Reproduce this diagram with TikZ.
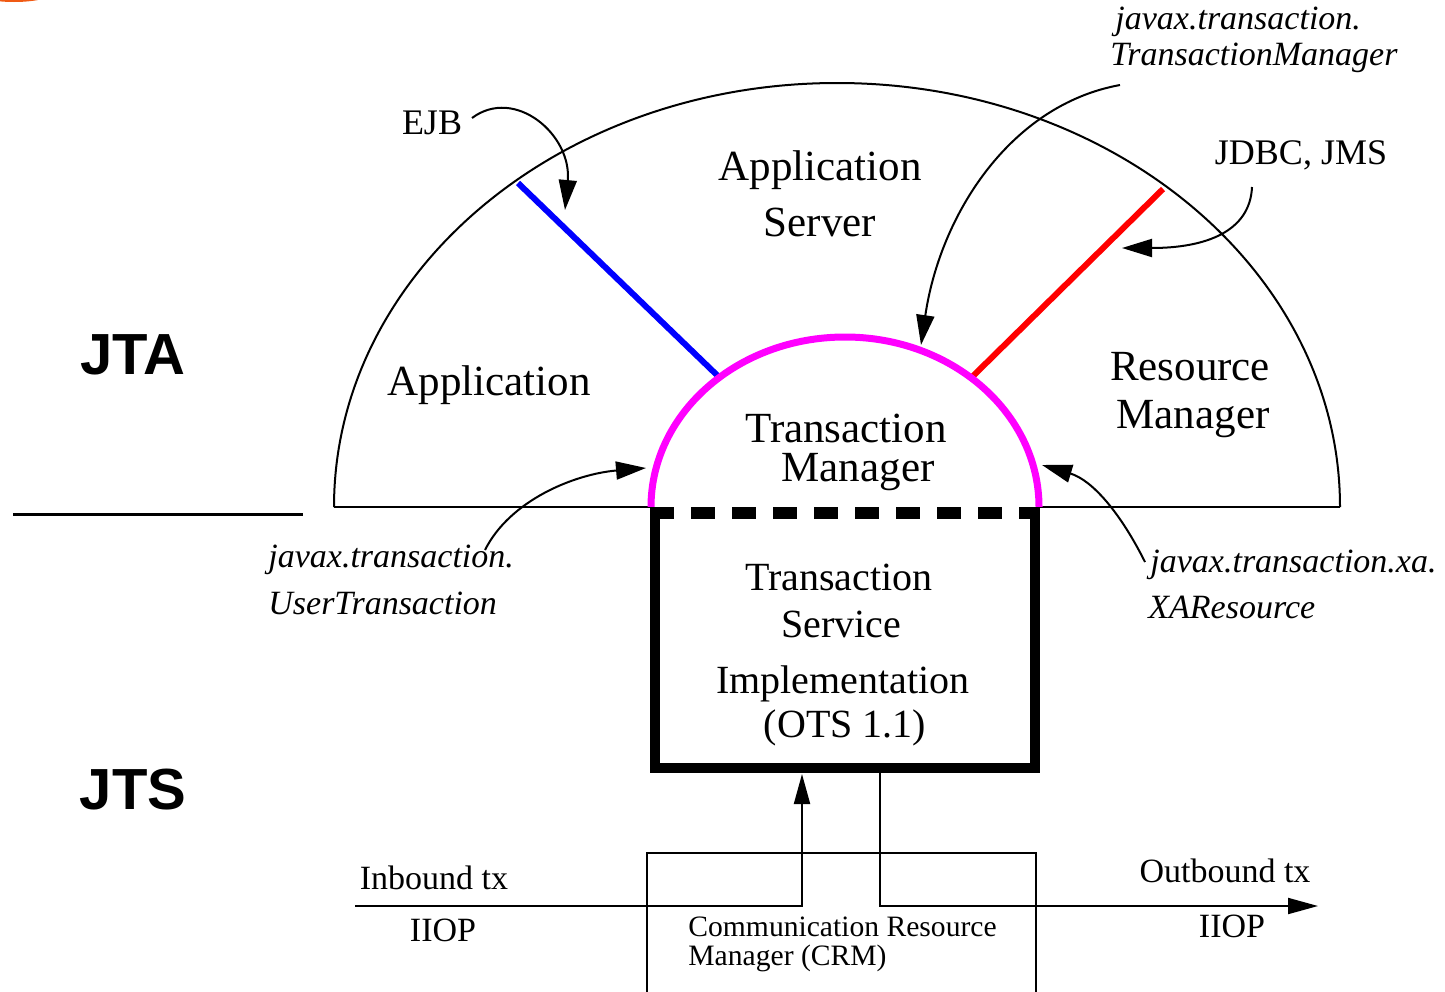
\documentclass[tikz,border=0pt]{standalone}
\usepackage{fontspec}
\setmainfont{Liberation Serif}
\newfontfamily\labelsans{Liberation Sans}
\usetikzlibrary{arrows.meta}
\definecolor{tmpink}{RGB}{255,0,255}
\definecolor{ejbblue}{RGB}{0,0,255}
\definecolor{rmred}{RGB}{255,0,0}
\definecolor{cornerorange}{RGB}{240,90,20}
\begin{document}
\begin{tikzpicture}[x=0.5pt,y=-0.5pt,
  big/.style={font=\fontsize{21.5}{26}\selectfont, inner sep=0pt},
  mid/.style={font=\fontsize{20}{24}\selectfont, inner sep=0pt},
  lbl/.style={font=\fontsize{18}{22}\selectfont, inner sep=0pt},
  api/.style={font=\fontsize{17}{20}\selectfont\itshape, inner sep=0pt, anchor=west},
  small/.style={font=\fontsize{17}{20}\selectfont, inner sep=0pt},
  crm/.style={font=\fontsize{14.8}{18}\selectfont, inner sep=0pt, anchor=west},
  layer/.style={font=\labelsans\bfseries\fontsize{29}{34}\selectfont, inner sep=0pt},
  thin/.style={line width=1pt},
  pointer/.style={thin, -{Triangle[length=15pt,width=9pt]}},
  bus/.style={thin, -{Triangle[length=15pt,width=8pt]}},
]
\useasboundingbox (0,0) rectangle (1445,991);
\clip (0,0) rectangle (1445,991);

% orange fragment at the corner
\fill[cornerorange] (14,-8) ellipse [x radius=20pt, y radius=5pt];

% coordinates
\coordinate (bl) at (334,507);
\coordinate (br) at (1340,507);
\coordinate (tml) at (651,507);
\coordinate (tmr) at (1039,507);
\coordinate (tssNW) at (655,513);
\coordinate (tssSW) at (655,768);
\coordinate (tssSE) at (1035,768);
\coordinate (tssNE) at (1035,513);

% big semicircle (application server)
\draw[thin] (bl) arc[start angle=180, end angle=0, x radius=251.5pt, y radius=212pt];
\draw[thin] (bl) -- (tml);
\draw[thin] (tmr) -- (br);

% blue and red spokes
\coordinate (ejbA) at (518,183);
\coordinate (ejbB) at (720,378);
\coordinate (rmA) at (1163,189);
\coordinate (rmB) at (972,377);
\draw[ejbblue, line width=3pt] (ejbA) -- (ejbB);
\draw[rmred, line width=3pt] (rmA) -- (rmB);

% transaction manager arc
\draw[tmpink, line width=3.5pt] (tml) arc[start angle=180, end angle=0, x radius=97pt, y radius=85pt];

% transaction service box
\draw[line width=5pt, miter limit=4] (tssNW) -- (tssSW) -- (tssSE) -- (tssNE);
\draw[line width=6pt, dash pattern=on 12pt off 8.5pt] ([xshift=-2.5pt]tssNW) -- ([xshift=2.5pt]tssNE);

% separator
\coordinate (sepL) at (13,514);
\coordinate (sepR) at (303,514);
\draw[line width=1.5pt] (sepL) -- (sepR);

% texts
\node[layer] (jta) at (133,355) {JTA};
\node[layer] (jts) at (133,790) {JTS};

\node[big] (app) at (489,385) {Application};
\node[big] (as1) at (820,170) {Application};
\node[big] (as2) at (820,222) {Server};
\node[big] (rm1) at (1190,367) {Resource};
\node[big] (rm2) at (1193,419) {Manager};
\node[big] (tm1) at (846,428) {Transaction};
\node[big] (tm2) at (858,472) {Manager};

\node[mid] (ts1) at (839,577) {Transaction};
\node[mid] (ts2) at (841,624) {Service};
\node[mid] (ts3) at (843,684) {Implementation};
\node[mid] (ts4) at (845,728) {(OTS 1.1)};

\node[lbl] (ejb) at (432,123) {EJB};
\node[lbl] (jdbc) at (1301,155) {JDBC, JMS};

\node[api] (tmA) at (1115,22) {javax.transaction.};
\node[api] (tmB) at (1110,58) {TransactionManager};
\node[api] (utA) at (268,560) {javax.transaction.};
\node[api] (utB) at (268,603) {UserTransaction};
\node[api] (xaA) at (1150,565) {javax.transaction.xa.};
\node[api] (xaB) at (1148,607) {XAResource};

\node[small] (inb) at (434,878) {Inbound tx};
\node[small] (iiopA) at (443,930) {IIOP};
\node[small] (outb) at (1225,871) {Outbound tx};
\node[small] (iiopB) at (1232,926) {IIOP};

% CRM box
\coordinate (crmNW) at (647,853);
\coordinate (crmSE) at (1036,1000);
\draw[thin] (crmNW) rectangle (crmSE);
\node[crm] (crm1) at (688,927) {Communication Resource};
\node[crm] (crm2) at (688,958) {Manager (CRM)};

% API pointers
\coordinate (ejbS) at (472,118);
\coordinate (ejbT) at (565,210);
\draw[pointer] (ejbS) .. controls (515,86) and (572,135) .. (ejbT);

\coordinate (tmS) at (1120,85);
\coordinate (tmT) at (921,345);
\draw[pointer] (tmS) .. controls (1010,105) and (940,215) .. (tmT);

\coordinate (jdS) at (1252,187);
\coordinate (jdT) at (1122,248);
\draw[pointer] (jdS) .. controls (1250,232) and (1205,248) .. (jdT);

\coordinate (utS) at (485,550);
\coordinate (utT) at (646,468);
\draw[pointer] (utS) .. controls (510,500) and (575,474) .. (utT);

\coordinate (xaS) at (1145,562);
\coordinate (xaT) at (1042,465);
\draw[pointer] (xaS) .. controls (1120,512) and (1092,480) .. (xaT);

% inbound / outbound
\coordinate (inS) at (355,906);
\coordinate (inC) at (802,906);
\coordinate (inT) at (802,774);
\draw[bus] (inS) -- (inC) -- (inT);
\coordinate (outS) at (880,773);
\coordinate (outC) at (880,906);
\coordinate (outT) at (1318,906);
\draw[bus] (outS) -- (outC) -- (outT);
\end{tikzpicture}
\end{document}
